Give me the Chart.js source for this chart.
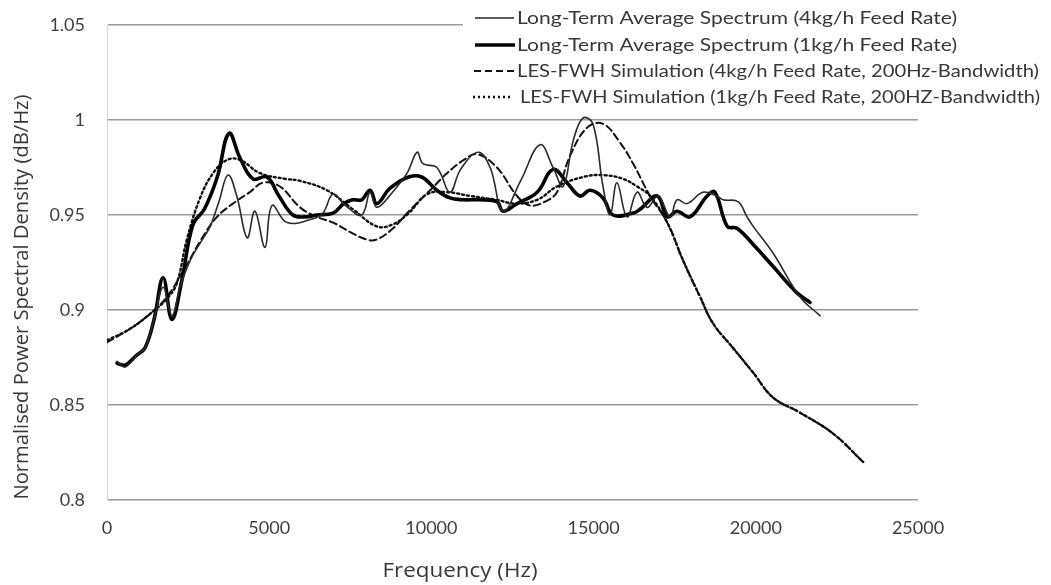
<!DOCTYPE html>
<html>
<head>
<meta charset="utf-8">
<script src="https://cdn.jsdelivr.net/npm/chart.js@4.4.1/dist/chart.umd.min.js"></script>
<style>
  html, body { margin: 0; padding: 0; background: #fff; }
  #chart { display: block; }
</style>
</head>
<body>
<canvas id="chart" width="1051" height="585"></canvas>
<script>
// Long-term average spectrum, 4kg/h feed rate
const ltas4Freq = [310, 560, 900, 1170, 1450, 1730, 2000, 2250, 2560, 2900, 3180, 3450, 3730, 4000, 4320, 4560, 4870, 5090, 5550, 6350, 6660, 6970, 7350, 7850, 8110, 8320, 8800, 9250, 9560, 9740, 10170, 10570, 10900, 11440, 11810, 12210, 12750, 13350, 13750, 14060, 14370, 14670, 14980, 15290, 15510, 15720, 16030, 16340, 16650, 16990, 17360, 17570, 17880, 18370, 18800, 18990, 19450, 19730, 19920, 20530, 21360, 21980];
const ltas4Psd  = [0.873, 0.870, 0.876, 0.880, 0.895, 0.912, 0.897, 0.912, 0.926, 0.936, 0.944, 0.957, 0.971, 0.960, 0.938, 0.952, 0.933, 0.955, 0.946, 0.948, 0.951, 0.961, 0.955, 0.950, 0.962, 0.954, 0.962, 0.972, 0.983, 0.977, 0.975, 0.962, 0.974, 0.983, 0.975, 0.952, 0.968, 0.987, 0.975, 0.965, 0.989, 1.001, 0.998, 0.965, 0.950, 0.967, 0.949, 0.962, 0.954, 0.960, 0.949, 0.958, 0.956, 0.962, 0.960, 0.958, 0.957, 0.949, 0.944, 0.930, 0.907, 0.897];

// Long-term average spectrum, 1kg/h feed rate
const ltas1Freq = [310, 560, 900, 1170, 1450, 1730, 2000, 2300, 2650, 3000, 3400, 3760, 4100, 4500, 4930, 5300, 5730, 6100, 6470, 6970, 7300, 7580, 7850, 8110, 8320, 8720, 9300, 9700, 10170, 10570, 10980, 11500, 12020, 12210, 12640, 13260, 13750, 14180, 14580, 14890, 15290, 15600, 16220, 16430, 16960, 17270, 17570, 17970, 18500, 18740, 19120, 19420, 20000, 20530, 21270, 21670];
const ltas1Psd  = [0.872, 0.871, 0.876, 0.880, 0.895, 0.917, 0.895, 0.915, 0.945, 0.953, 0.970, 0.993, 0.980, 0.969, 0.970, 0.960, 0.950, 0.949, 0.950, 0.951, 0.956, 0.958, 0.958, 0.963, 0.956, 0.964, 0.970, 0.970, 0.963, 0.959, 0.958, 0.958, 0.957, 0.952, 0.956, 0.962, 0.974, 0.967, 0.960, 0.963, 0.959, 0.950, 0.951, 0.953, 0.960, 0.949, 0.952, 0.949, 0.960, 0.962, 0.944, 0.943, 0.933, 0.923, 0.909, 0.904];

// LES-FWH simulation, 4kg/h feed rate
const les4Freq = [0, 700, 1330, 1850, 2400, 2900, 3390, 3880, 4400, 4810, 5330, 5950, 6470, 6970, 7500, 8020, 8300, 8820, 9250, 9960, 10480, 11000, 11410, 12020, 12640, 13040, 13500, 13870, 14270, 14800, 15290, 15820, 16220, 16740, 17270, 17760, 18280, 18680, 19300, 19920, 20530, 21360, 22380, 23310];
const les4Psd  = [0.883, 0.890, 0.898, 0.907, 0.922, 0.937, 0.949, 0.956, 0.962, 0.967, 0.965, 0.954, 0.949, 0.946, 0.941, 0.937, 0.937, 0.943, 0.951, 0.963, 0.972, 0.979, 0.982, 0.975, 0.960, 0.955, 0.957, 0.962, 0.981, 0.996, 0.998, 0.988, 0.977, 0.960, 0.946, 0.926, 0.907, 0.893, 0.880, 0.867, 0.854, 0.846, 0.835, 0.820];

// LES-FWH simulation, 1kg/h feed rate
const les1Freq = [0, 700, 1330, 1850, 2150, 2460, 2870, 3270, 3700, 4100, 4720, 5500, 5950, 6780, 7580, 8320, 8800, 9300, 9870, 10500, 11200, 12000, 12600, 13260, 13870, 14670, 15290, 15910, 16340, 16740, 17270, 17760, 18280, 18680, 19300, 19920, 20530, 21360, 22380, 23310];
const les1Psd  = [0.884, 0.890, 0.898, 0.906, 0.914, 0.937, 0.959, 0.972, 0.979, 0.979, 0.972, 0.969, 0.968, 0.963, 0.953, 0.944, 0.945, 0.951, 0.961, 0.962, 0.960, 0.958, 0.956, 0.958, 0.965, 0.970, 0.971, 0.969, 0.965, 0.960, 0.946, 0.926, 0.907, 0.893, 0.880, 0.867, 0.854, 0.846, 0.835, 0.820];

const seriesLabels = [
  'Long-Term Average Spectrum (4kg/h Feed Rate)',
  'Long-Term Average Spectrum (1kg/h Feed Rate)',
  'LES-FWH Simulation (4kg/h Feed Rate, 200Hz-Bandwidth)',
  'LES-FWH Simulation (1kg/h Feed Rate, 200HZ-Bandwidth)'
];
const xTitle = 'Frequency (Hz)';
const yTitle = 'Normalised Power Spectral Density (dB/Hz)';

function toPoints(xs, ys) {
  return xs.map((x, i) => ({ x: x, y: ys[i] }));
}

// line styles, shared by the plot and the legend
const styles = [
  { color: '#2a2a2a', width: 1.6, dash: [] },
  { color: '#000000', width: 3.6, dash: [] },
  { color: '#111111', width: 2, dash: [7, 4] },
  { color: '#111111', width: 2.4, dash: [2, 3] }
];

const pointSets = [
  toPoints(ltas4Freq, ltas4Psd),
  toPoints(ltas1Freq, ltas1Psd),
  toPoints(les4Freq, les4Psd),
  toPoints(les1Freq, les1Psd)
];

const datasets = pointSets.map((pts, i) => ({
  label: seriesLabels[i],
  data: pts,
  showLine: true,
  borderColor: styles[i].color,
  borderWidth: styles[i].width,
  borderDash: styles[i].dash,
  borderCapStyle: 'round',
  borderJoinStyle: 'round',
  pointRadius: 0,
  tension: 0.4,
  fill: false
}));

// draw text squeezed or stretched to a given width
function fitText(ctx, text, x, y, width, rot) {
  const w = ctx.measureText(text).width;
  ctx.save();
  ctx.translate(x, y);
  if (rot) ctx.rotate(rot);
  ctx.scale(width / w, 1);
  ctx.fillText(text, 0, 0);
  ctx.restore();
}

// legend box in the top-right corner and axis titles
const overlay = {
  id: 'overlay',
  afterDraw(chart) {
    const ctx = chart.ctx;
    ctx.save();
    ctx.fillStyle = '#fff';
    ctx.fillRect(463, 4, 588, 104);

    const rowY = [18, 45, 71, 97];
    const textX = [517, 517, 517, 520];
    const textW = [440, 440, 522, 520];
    const lineX = [[475, 514], [475, 515], [474, 514], [473, 511]];
    ctx.font = '18px "Liberation Sans Narrow", Lato, sans-serif';
    ctx.textBaseline = 'middle';
    ctx.textAlign = 'left';
    seriesLabels.forEach((label, i) => {
      ctx.beginPath();
      ctx.strokeStyle = styles[i].color;
      ctx.lineWidth = styles[i].width;
      ctx.setLineDash(styles[i].dash);
      ctx.lineCap = 'butt';
      ctx.moveTo(lineX[i][0], rowY[i]);
      ctx.lineTo(lineX[i][1], rowY[i]);
      ctx.stroke();
      ctx.setLineDash([]);

      ctx.fillStyle = '#383838';
      fitText(ctx, label, textX[i], rowY[i], textW[i]);
    });

    // axis titles
    ctx.fillStyle = '#383838';
    ctx.font = '20px "Open Sans", sans-serif';
    ctx.textAlign = 'center';
    ctx.textBaseline = 'middle';
    fitText(ctx, xTitle, 460, 571, 155);
    fitText(ctx, yTitle, 22, 297, 405, -Math.PI / 2);

    ctx.restore();
  }
};

new Chart(document.getElementById('chart'), {
  type: 'scatter',
  data: { datasets: datasets },
  options: {
    responsive: false,
    animation: false,
    // plot area runs from y=25 to y=500, x=107 to x=918
    layout: { padding: { top: 25, right: 133, left: 0, bottom: 0 } },
    plugins: {
      legend: { display: false },
      tooltip: { enabled: false }
    },
    scales: {
      x: {
        type: 'linear',
        min: 0,
        max: 25000,
        afterFit: s => { s.height = 85; },
        grid: { display: false, drawTicks: false },
        border: { display: false },
        ticks: {
          stepSize: 5000,
          padding: 17,
          color: '#404040',
          font: { family: 'Lato, sans-serif', size: 18 },
          callback: v => String(v)
        }
      },
      y: {
        min: 0.8,
        max: 1.05,
        // the tick padding would otherwise push the plot top down
        afterFit: s => { s.width = 107; s.paddingTop = 0; s.paddingBottom = 0; },
        grid: { color: '#9a9a9a', lineWidth: 1.6, drawTicks: false },
        border: { display: true, color: '#d4d4d4', width: 1 },
        ticks: {
          stepSize: 0.05,
          padding: 22,
          color: '#404040',
          font: { family: 'Lato, sans-serif', size: 18 },
          callback: v => String(+v.toFixed(2))
        }
      }
    }
  },
  plugins: [overlay]
});
</script>
</body>
</html>
